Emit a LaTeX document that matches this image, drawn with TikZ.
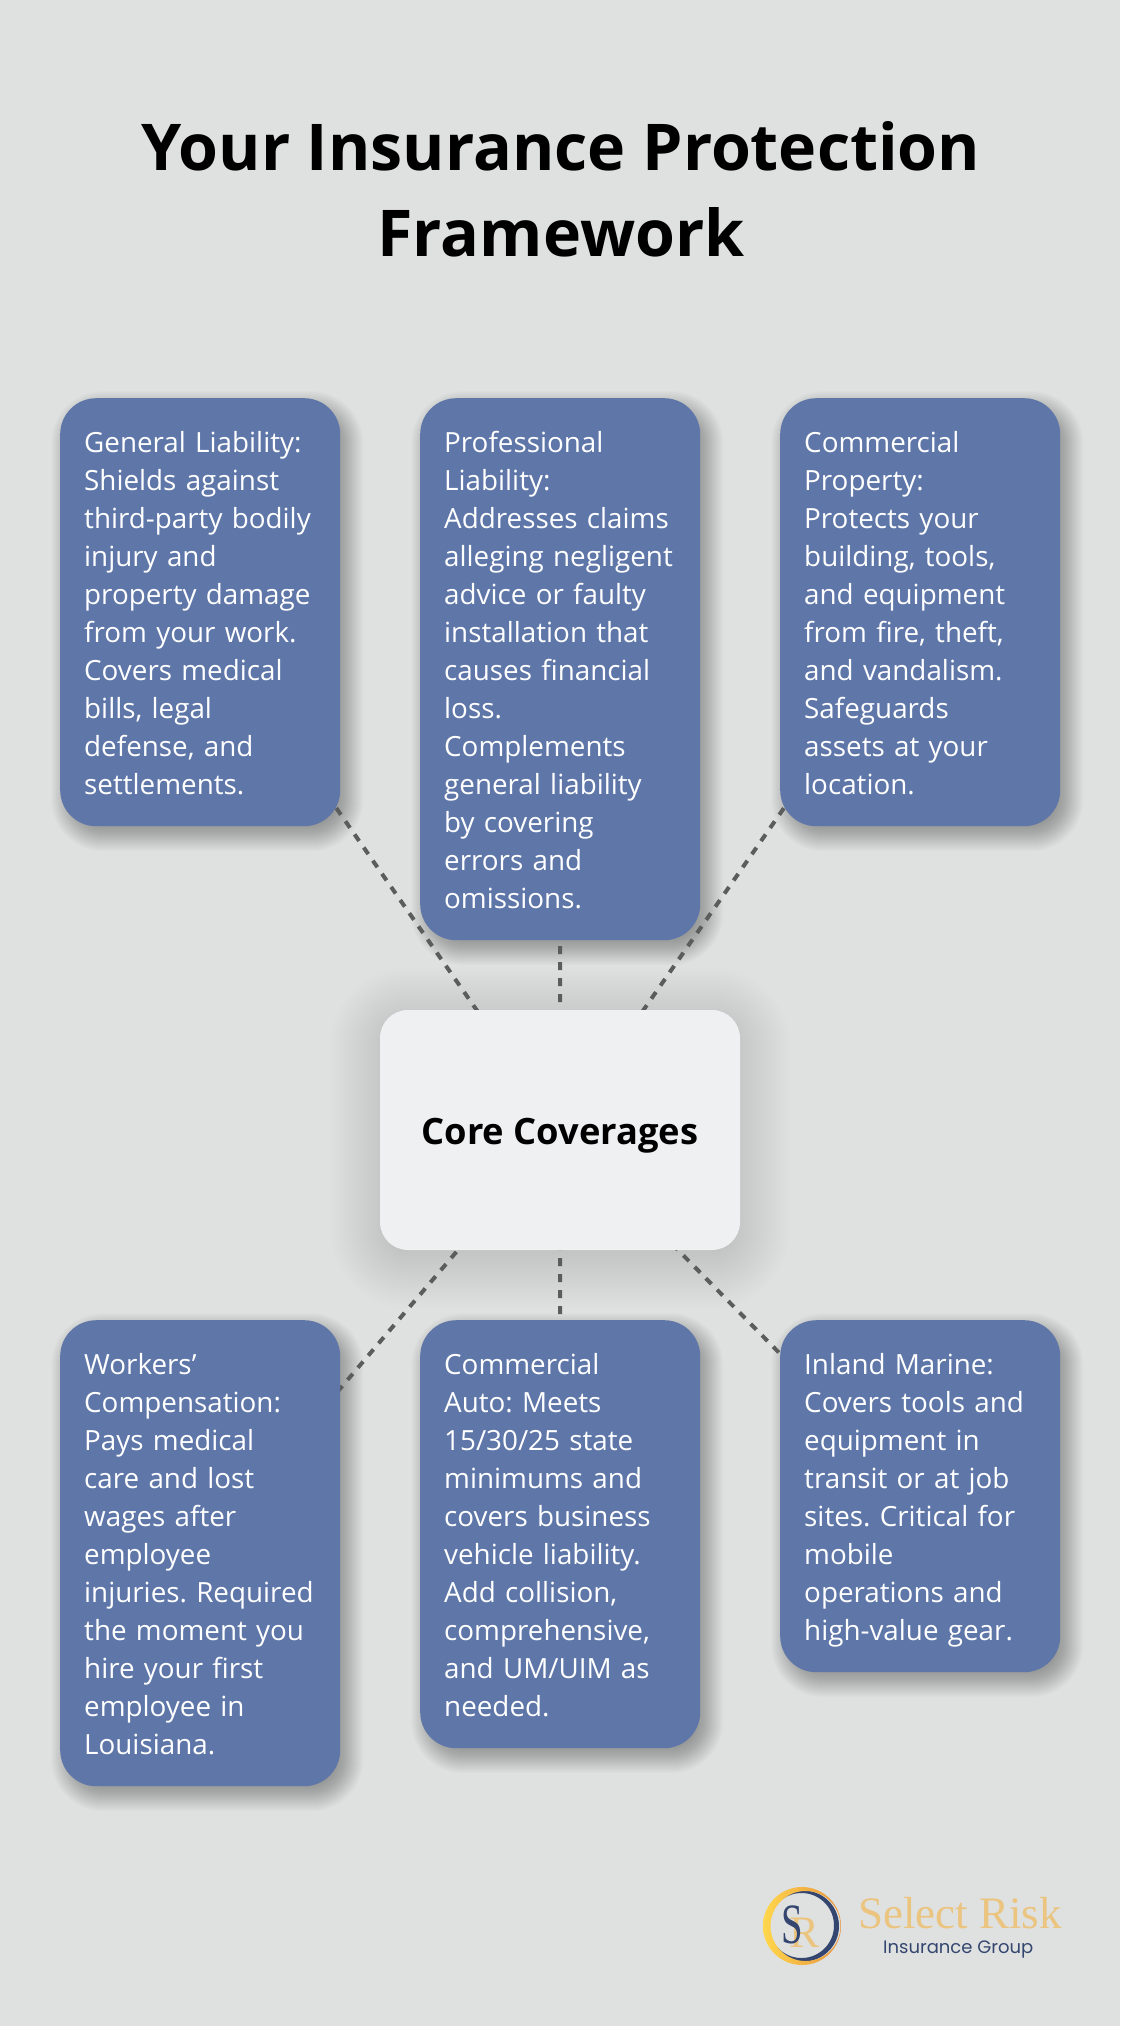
\documentclass[tikz,border=0pt]{standalone}
\usepackage{fontspec}
\setmainfont{Open Sans}
\newfontfamily\logoserif{Liberation Serif}
\newfontfamily\logosans{Poppins}
\usetikzlibrary{calc}
\definecolor{bgc}{HTML}{DFE1E0}
\definecolor{cardc}{HTML}{5E76A8}
\definecolor{corec}{HTML}{EFF0F2}
\definecolor{dashc}{HTML}{5C5C5C}
\definecolor{navyc}{HTML}{34466F}
\definecolor{goldc}{HTML}{EBC47F}
\pgfdeclarelayer{shadowlayer}
\pgfdeclarelayer{linelayer}
\pgfsetlayers{shadowlayer,linelayer,main}
\newcommand{\tstrut}{\rule[-8pt]{0pt}{38pt}}
\newcommand{\softshadow}[7]{% name, dx, dy, spread, steps, alpha, radius
  \foreach \i in {1,...,#5}{
    \pgfmathsetmacro{\ee}{#4*(1-2*(\i-1)/(#5-1))}
    \pgfmathsetmacro{\rr}{max(#7+\ee,1)}
    \fill[black,opacity=#6,rounded corners=\rr pt]
      ($(#1.south west)+(#2-\ee,#3+\ee)$) rectangle ($(#1.north east)+(#2+\ee,#3-\ee)$);
  }}
\tikzset{
  card/.style={anchor=north west,fill=cardc,rounded corners=36pt,text=white,
    text width=232pt,inner xsep=24pt,inner ysep=24pt,align=left,
    font=\fontsize{27.8}{38}\selectfont\frenchspacing},
  core/.style={fill=corec,rounded corners=28pt,minimum width=360pt,minimum height=240pt,
    inner sep=0pt,text=black,font=\fontsize{36.3}{40}\bfseries\selectfont,text height=30pt,text depth=2pt},
  heading/.style={text=black,align=center,inner sep=0pt,font=\fontsize{64.5}{86}\bfseries\selectfont},
  conn/.style={draw=dashc,line width=4pt,dash pattern=on 8pt off 8pt},
}
\begin{document}
\begin{tikzpicture}[x=1pt,y=-1pt]
\useasboundingbox (0,0) rectangle (1120,2026);
\begin{pgfonlayer}{shadowlayer}
  \fill[bgc] (0,0) rectangle (1120,2026);
\end{pgfonlayer}

\node[heading] (title) at (561,196) {\strut Your Insurance Protection\\Framework\strut};

\node[card] (gl) at (60,398) {\tstrut General Liability:\\Shields against\\third-party bodily\\injury and\\property damage\\from your work.\\Covers medical\\bills, legal\\defense, and\\settlements.\tstrut};
\node[card] (pl) at (420,398) {\tstrut Professional\\Liability:\\Addresses claims\\alleging negligent\\advice or faulty\\installation that\\causes financial\\loss.\\Complements\\general liability\\by covering\\errors and\\omissions.\tstrut};
\node[card] (cp) at (780,398) {\tstrut Commercial\\Property:\\Protects your\\building, tools,\\and equipment\\from fire, theft,\\and vandalism.\\Safeguards\\assets at your\\location.\tstrut};
\node[card] (wc) at (60,1320) {\tstrut Workers’\\Compensation:\\Pays medical\\care and lost\\wages after\\employee\\injuries. Required\\the moment you\\hire your first\\employee in\\Louisiana.\tstrut};
\node[card] (ca) at (420,1320) {\tstrut Commercial\\Auto: Meets\\15/30/25 state\\minimums and\\covers business\\vehicle liability.\\Add collision,\\comprehensive,\\and UM/UIM as\\needed.\tstrut};
\node[card] (im) at (780,1320) {\tstrut Inland Marine:\\Covers tools and\\equipment in\\transit or at job\\sites. Critical for\\mobile\\operations and\\high-value gear.\tstrut};
\node[core] (cc) at (560,1130) {Core Coverages};

\begin{pgfonlayer}{shadowlayer}
  \softshadow{cc}{0}{8}{50}{50}{0.0042}{28}
  \foreach \n in {gl,pl,cp,wc,ca,im}{\softshadow{\n}{7}{9}{16}{32}{0.013}{36}}
\end{pgfonlayer}
\begin{pgfonlayer}{linelayer}
  \foreach \n in {gl,pl,cp,wc,ca,im}{\draw[conn] (cc.center) -- (\n.center);}
\end{pgfonlayer}

% logo
\coordinate (lg) at (802,1926);
\fill[navyc,even odd rule] ($(lg)+(1.5,0)$) circle[radius=35.5] ($(lg)+(-0.5,-0.5)$) circle[radius=32.5];
\fill[bgc] ($(lg)+(-42,-26)$) -- ($(lg)+(-18,-26)$) -- ($(lg)+(-30,0)$) -- ($(lg)+(-26,26)$) -- ($(lg)+(-42,26)$) -- cycle;
\shade[even odd rule,left color=yellow!55!orange!70!white,right color=orange!60!brown!85!white]
  (lg) circle[radius=39] ($(lg)+(3.5,0)$) circle[radius=35];
\node[inner sep=0pt,anchor=base,text=goldc,font=\fontsize{45}{48}\logoserif\selectfont] (lr) at (804,1947) {R};
\node[inner sep=0pt,anchor=base,xscale=0.68,text=navyc,font=\fontsize{57}{60}\logoserif\selectfont] (ls) at (792,1943) {S};
\node[inner sep=0pt,anchor=base west,text=goldc,font=\fontsize{45}{48}\logoserif\selectfont] (lt) at (858,1928) {Select Risk};
\node[inner sep=0pt,anchor=base west,text=navyc,font=\fontsize{18}{22}\logosans\selectfont] (lu) at (883,1953) {Insurance Group};
\end{tikzpicture}
\end{document}
